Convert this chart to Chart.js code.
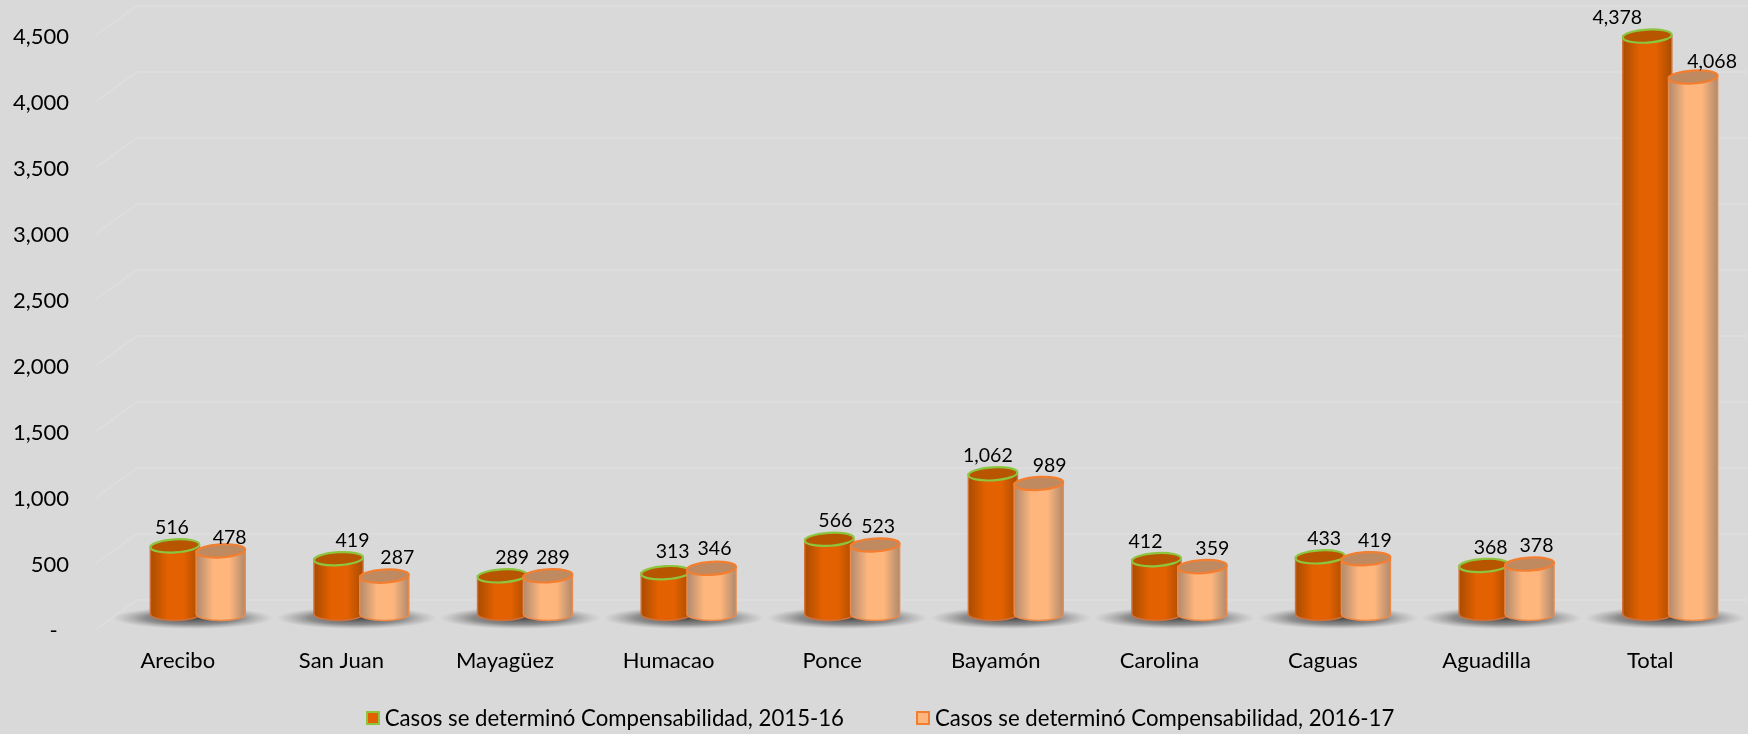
<!DOCTYPE html>
<html>
<head>
<meta charset="utf-8">
<script src="https://cdn.jsdelivr.net/npm/chart.js@4"></script>
<style>
    html, body { margin: 0; width: 1748px; height: 734px; overflow: hidden; background: #d9d9d9; }
    #leyenda { position: absolute; left: 6px; top: 704px; width: 1748px; display: flex; justify-content: center;
        font: 22.2px Lato, sans-serif; color: #000; line-height: 28px; }
    #leyenda span { display: flex; align-items: center; margin: 0 36px; }
    #leyenda i { width: 10px; height: 10px; margin-right: 5px; border: 2px solid; }
</style>
</head>
<body>
<canvas id="grafica" width="1760" height="734"></canvas>
<div id="leyenda"></div>
<script>
const categorias = ['Arecibo', 'San Juan', 'Mayagüez', 'Humacao', 'Ponce', 'Bayamón', 'Carolina', 'Caguas', 'Aguadilla', 'Total'];
const casos2015 = [516, 419, 289, 313, 566, 1062, 412, 433, 368, 4378];
const casos2016 = [478, 287, 289, 346, 523, 989, 359, 419, 378, 4068];
const series = ['Casos se determinó Compensabilidad, 2015-16', 'Casos se determinó Compensabilidad, 2016-17'];

// corrimiento de las etiquetas de valor, como las dejó Excel
const corrimientoX = [
    [-3, 14, 10, 7, 6, -5, -11, 4, 7, -30],
    [9, 13, 5, 3, 3, 11, 10, 9, 7, 19]
];
const corrimientoY = [
    [0, 0, 0, -3, -1, 0, 0, 0, 0, 0],
    [5, 0, 0, -2, 0, 0, 0, 0, 0, 3]
];

const colores = [
    { borde: '#8cc63f', lado: '#d0703a', tapa: '#b85500', orilla: '#a94c00', centro: '#e36100', relleno: '#e36100' },
    { borde: '#f47e30', lado: '#ee8a48', tapa: '#c08a60', orilla: '#b08a6e', centro: '#ffb67c', relleno: '#ffb67c' }
];

const fuente = 'Lato, sans-serif';

function elipse(c, x, y, rx, ry) {
    c.beginPath();
    c.ellipse(x, y, rx, ry, -0.06, 0, Math.PI * 2);
}

// pared lateral y pared del fondo
const paredes = {
    id: 'paredes',
    beforeDatasetsDraw(chart) {
        const c = chart.ctx, y = chart.scales.y;
        c.save();
        c.strokeStyle = '#dddddd';
        c.lineWidth = 2;
        y.ticks.forEach(t => {
            const p = y.getPixelForValue(t.value);
            c.beginPath();
            c.moveTo(95, p + 16);
            c.lineTo(137, p - 14);
            c.lineTo(1760, p - 14);
            c.stroke();
        });
        // sombra en el piso
        const base = y.getPixelForValue(0);
        chart.getDatasetMeta(0).data.forEach(bar => {
            const cx = bar.x + 18;
            const g = c.createRadialGradient(0, 0, 0, 0, 0, 1);
            g.addColorStop(0, 'rgba(60,60,60,0.95)');
            g.addColorStop(0.6, 'rgba(90,90,90,0.6)');
            g.addColorStop(1, 'rgba(130,130,130,0)');
            c.save();
            c.translate(cx, base + 4);
            c.scale(80, 11);
            c.fillStyle = g;
            c.beginPath();
            c.arc(0, 0, 1, 0, Math.PI * 2);
            c.fill();
            c.restore();
        });
        c.restore();
    }
};

// los cilindros se pintan encima de cada barra y luego van las etiquetas
const cilindros = {
    id: 'cilindros',
    afterDatasetsDraw(chart) {
        const c = chart.ctx;
        c.save();
        chart.data.datasets.forEach((ds, d) => {
            const col = colores[d];
            chart.getDatasetMeta(d).data.forEach(bar => {
                const rx = bar.width / 2, ry = 6.5;
                const izq = bar.x - rx, der = bar.x + rx;
                const g = c.createLinearGradient(izq, 0, der, 0);
                g.addColorStop(0, col.orilla);
                g.addColorStop(0.35, col.centro);
                g.addColorStop(0.68, col.centro);
                g.addColorStop(1, col.orilla);
                c.beginPath();
                c.moveTo(izq, bar.y);
                c.lineTo(izq, bar.base);
                c.ellipse(bar.x, bar.base, rx, ry, 0, Math.PI, 0, true);
                c.lineTo(der, bar.y);
                c.closePath();
                c.fillStyle = g;
                c.fill();
                c.strokeStyle = col.lado;
                c.lineWidth = 1.5;
                c.stroke();
                elipse(c, bar.x, bar.y, rx, ry);
                c.fillStyle = col.tapa;
                c.fill();
                c.strokeStyle = col.borde;
                c.lineWidth = 2.2;
                c.stroke();
            });
        });
        c.font = '19.5px ' + fuente;
        c.fillStyle = '#000';
        c.textAlign = 'center';
        c.textBaseline = 'middle';
        chart.data.datasets.forEach((ds, d) => {
            chart.getDatasetMeta(d).data.forEach((bar, i) => {
                c.fillText(ds.data[i].toLocaleString('en-US'), bar.x + corrimientoX[d][i], bar.y - 18 + corrimientoY[d][i]);
            });
        });
        c.restore();
    }
};

new Chart(document.getElementById('grafica'), {
    type: 'bar',
    data: {
        labels: categorias,
        datasets: [
            { label: series[0], data: casos2015, backgroundColor: colores[0].relleno, borderColor: colores[0].borde },
            { label: series[1], data: casos2016, backgroundColor: colores[1].relleno, borderColor: colores[1].borde }
        ]
    },
    options: {
        responsive: false,
        animation: false,
        categoryPercentage: 0.56,
        barPercentage: 1.07,
        layout: { padding: { top: 20, right: 8, left: 0, bottom: 0 } },
        plugins: {
            legend: { display: false },
            tooltip: { enabled: false }
        },
        scales: {
            x: {
                grid: { display: false },
                border: { display: false },
                afterFit(s) { s.height = 120; },
                ticks: {
                    color: '#000',
                    font: { family: fuente, size: 22 },
                    labelOffset: -20,
                    padding: 26,
                    maxRotation: 0
                }
            },
            y: {
                min: 0,
                max: 4500,
                grid: { display: false },
                border: { display: false },
                // el padding de las marcas no debe encoger el área del gráfico
                afterFit(s) { s.width = 116; s.paddingTop = 0; s.paddingBottom = 0; },
                ticks: {
                    stepSize: 500,
                    color: '#000',
                    font: { family: fuente, size: 22 },
                    labelOffset: 17,
                    padding: 39,
                    callback: v => v === 0 ? '-  ' : v.toLocaleString('en-US')
                }
            }
        }
    },
    plugins: [paredes, cilindros]
});

// leyenda
const leyenda = document.getElementById('leyenda');
series.forEach((texto, i) => {
    const item = document.createElement('span');
    const cuadro = document.createElement('i');
    cuadro.style.background = colores[i].relleno;
    cuadro.style.borderColor = colores[i].borde;
    item.appendChild(cuadro);
    item.appendChild(document.createTextNode(texto));
    leyenda.appendChild(item);
});
</script>
</body>
</html>
